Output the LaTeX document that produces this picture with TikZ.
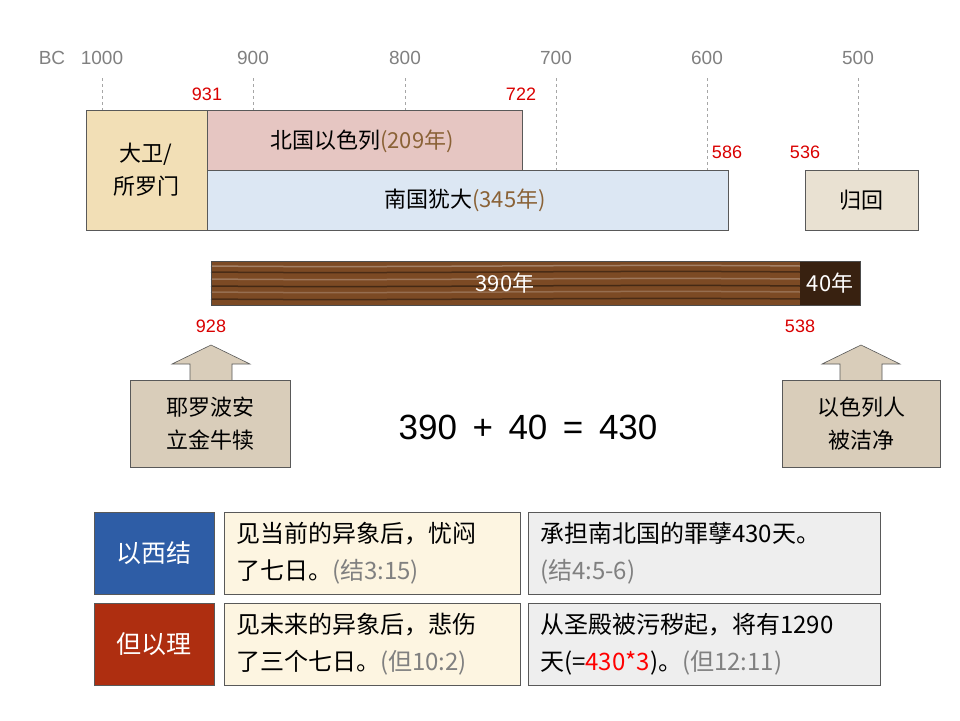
\documentclass[tikz,border=0pt]{standalone}
\usepackage{fontspec}
\setmainfont{Noto Sans CJK SC}
\newfontfamily\latinf{Liberation Sans}
\definecolor{parch}{HTML}{F2DFB6}
\definecolor{pinkb}{HTML}{E6C6C2}
\definecolor{blueb}{HTML}{DCE7F3}
\definecolor{beige}{HTML}{E9E1D2}
\definecolor{wood}{HTML}{7C4A24}
\definecolor{brownt}{HTML}{8A6236}
\definecolor{arr}{HTML}{D9CDBA}
\definecolor{ezb}{HTML}{2E5DA6}
\definecolor{dnr}{HTML}{AE2E10}
\definecolor{cream}{HTML}{FDF5E1}
\definecolor{lgray}{HTML}{EEEEEE}
\begin{document}
\begin{tikzpicture}[x=1pt,y=-1pt,
  yr/.style={font=\latinf\fontsize{19}{22}\selectfont,text=gray},
  red/.style={font=\latinf\fontsize{18}{22}\selectfont,text=red!85!black},
  bx/.style={draw=gray!70!black,line width=0.6pt,inner sep=0pt},
  tx/.style={font=\fontsize{22}{33}\selectfont,align=center},
  dl/.style={gray!70,dashed,line width=0.5pt}]
\useasboundingbox (0,0) rectangle (960,720);
% axis
\foreach \x/\t in {102/1000,253/900,405/800,556/700,707/600,858/500}{
  \node[yr] at (\x,58) {\t};
  \draw[dl] (\x,78) -- (\x,175);}
\node[yr] at (52,58) {BC};
% boxes
\fill[blueb] (207,170) rectangle (728,230);
\draw[bx] (207,170) rectangle (728,230);
\fill[pinkb] (207,110) rectangle (522,170);
\draw[bx] (207,110) rectangle (522,170);
\draw[bx,fill=parch] (86,110) rectangle (207,230);
\draw[bx,fill=beige] (805,170) rectangle (918,230);
\node[tx] (dw) at (146,170) {大卫/\\所罗门};
\node[tx] (bg) at (362,141) {北国以色列\textcolor{brownt}{(209年)}};
\node[tx] (ng) at (465,200) {南国犹大\textcolor{brownt}{(345年)}};
\node[tx] (gh) at (861,200) {归回};
\node[red] at (207,94) {931};
\node[red] at (521,94) {722};
\node[red] at (727,152) {586};
\node[red] at (805,152) {536};
% wood bar
\fill[wood] (211,261) rectangle (800,305);
\foreach \y/\c in {266/wood!70!white,272/wood!60!black,279/wood!75!white,286/wood!55!black,292/wood!80!white,299/wood!60!black}
  \draw[\c,line width=1.5pt] (211,\y) .. controls (400,\y+2) and (600,\y-2) .. (800,\y);
\fill[wood!45!black] (800,261) rectangle (860,305);
\draw[gray!60!black] (211,261) rectangle (860,305);
\node[tx,text=white] (a390) at (505,283) {390年};
\node[tx,text=white] (a40) at (830,283) {40年};
\node[red] at (211,326) {928};
\node[red] at (800,326) {538};
% block arrows
\draw[bx,fill=arr] (190,380) -- (190,364) -- (172,364) -- (211,345) -- (250,364) -- (232,364) -- (232,380);
\draw[bx,fill=arr] (130,380) rectangle (290,467);
\node[tx] (jr) at (210,424) {耶罗波安\\立金牛犊};
\draw[bx,fill=arr] (840,380) -- (840,364) -- (822,364) -- (861,345) -- (900,364) -- (882,364) -- (882,380);
\draw[bx,fill=arr] (782,380) rectangle (940,467);
\node[tx] (ys) at (861,424) {以色列人\\被洁净};
\node[font=\latinf\fontsize{35}{40}\selectfont] (eq) at (528,427) {390\,\ +\,\ 40\,\ =\,\ 430};
% bottom
\draw[bx,fill=ezb] (94,512) rectangle (214,594);
\node[tx,text=white,font=\fontsize{25}{30}\selectfont] (yx) at (154,553) {以西结};
\draw[bx,fill=dnr] (94,603) rectangle (214,685);
\node[tx,text=white,font=\fontsize{25}{30}\selectfont] (dy) at (154,644) {但以理};
\draw[bx,fill=cream] (224,512) rectangle (520,594);
\draw[bx,fill=cream] (224,603) rectangle (520,685);
\draw[bx,fill=lgray] (528,512) rectangle (880,594);
\draw[bx,fill=lgray] (528,603) rectangle (880,685);
\tikzset{bt/.style={font=\fontsize{24}{37}\selectfont,align=left,anchor=west,inner sep=0pt}}
\node[bt] (t1) at (236,553) {见当前的异象后，忧闷\\了七日。\textcolor{gray}{(结3:15)}};
\node[bt] (t2) at (236,644) {见未来的异象后，悲伤\\了三个七日。\textcolor{gray}{(但10:2)}};
\node[bt] (t3) at (540,553) {承担南北国的罪孽430天。\\\textcolor{gray}{(结4:5-6)}};
\node[bt] (t4) at (540,644) {从圣殿被污秽起，将有1290\\天(=\textcolor{red}{430*3})。\textcolor{gray}{(但12:11)}};
\end{tikzpicture}
\end{document}
